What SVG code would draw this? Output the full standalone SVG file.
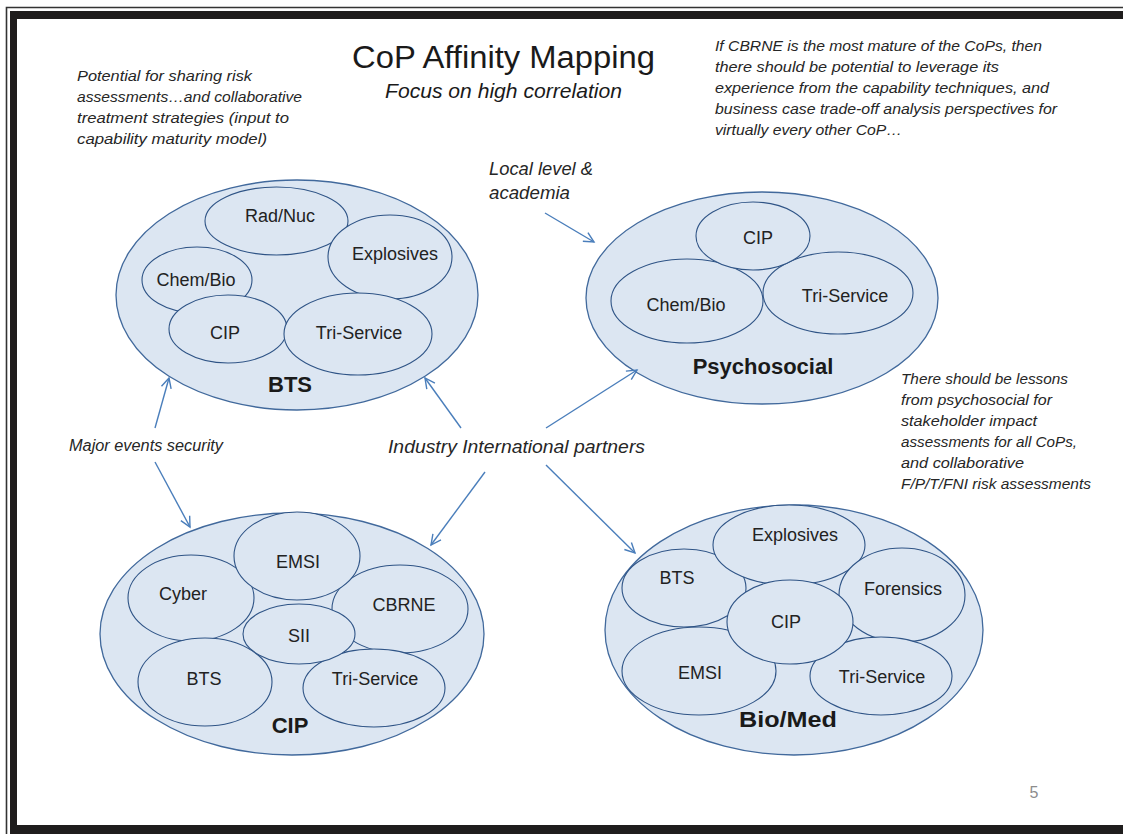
<svg xmlns="http://www.w3.org/2000/svg" width="1123" height="834" viewBox="0 0 1123 834">
<style>
.outer{fill:#dce6f2;stroke:#41699c;stroke-width:1.3}
.inner{fill:#dce6f2;stroke:#2f5486;stroke-width:1.1}
.lbl{font-family:"Liberation Sans",Arial,sans-serif;font-size:18px;fill:#222;text-anchor:middle}
.big{font-family:"Liberation Sans",Arial,sans-serif;font-size:22px;font-weight:bold;fill:#1a1a1a;text-anchor:middle}
.note{font-family:"Liberation Sans",Arial,sans-serif;font-style:italic;font-size:15.5px;fill:#262626}
.conn{stroke:#4a7ebb;stroke-width:1.4;fill:none;marker-end:url(#ah)}
.frame{fill:#1f1d1d}
</style>
<defs>
<marker id="ah" markerUnits="userSpaceOnUse" markerWidth="14" markerHeight="14" refX="11" refY="6" orient="auto">
<path d="M1,1 L11,6 L1,11" fill="none" stroke="#4a7ebb" stroke-width="1.4"/>
</marker>
</defs>
<rect x="0" y="0" width="1123" height="834" fill="#ffffff"/>
<g id="frame">
<path d="M6.5,834 V7.5 H1123" fill="none" stroke="#333" stroke-width="1.6"/>
<rect class="frame" x="10" y="11" width="1113" height="8"/>
<rect class="frame" x="10" y="11" width="7" height="823"/>
<rect class="frame" x="10" y="825" width="1113" height="9"/>
</g>
<g id="title">
<text x="352" y="68" font-family="'Liberation Sans',Arial,sans-serif" font-size="31" fill="#1a1a1a" textLength="303" lengthAdjust="spacingAndGlyphs">CoP Affinity Mapping</text>
<text x="385" y="98" font-family="'Liberation Sans',Arial,sans-serif" font-style="italic" font-size="21" fill="#1a1a1a" textLength="237" lengthAdjust="spacingAndGlyphs">Focus on high correlation</text>
</g>
<g id="note-left">
<text class="note" x="77" y="81" textLength="175" lengthAdjust="spacingAndGlyphs">Potential for sharing risk</text>
<text class="note" x="77" y="102" textLength="225" lengthAdjust="spacingAndGlyphs">assessments…and collaborative</text>
<text class="note" x="77" y="123" textLength="212" lengthAdjust="spacingAndGlyphs">treatment strategies (input to</text>
<text class="note" x="77" y="144" textLength="190" lengthAdjust="spacingAndGlyphs">capability maturity model)</text>
</g>
<g id="note-right-top">
<text class="note" x="715" y="51" textLength="327" lengthAdjust="spacingAndGlyphs">If CBRNE is the most mature of the CoPs, then</text>
<text class="note" x="715" y="72" textLength="284" lengthAdjust="spacingAndGlyphs">there should be potential to leverage its</text>
<text class="note" x="715" y="93" textLength="334" lengthAdjust="spacingAndGlyphs">experience from the capability techniques, and</text>
<text class="note" x="715" y="114" textLength="342" lengthAdjust="spacingAndGlyphs">business case trade-off analysis perspectives for</text>
<text class="note" x="715" y="135" textLength="187" lengthAdjust="spacingAndGlyphs">virtually every other CoP…</text>
</g>
<g id="note-right">
<text class="note" x="901" y="384" textLength="167" lengthAdjust="spacingAndGlyphs">There should be lessons</text>
<text class="note" x="901" y="405" textLength="151" lengthAdjust="spacingAndGlyphs">from psychosocial for</text>
<text class="note" x="901" y="426" textLength="136" lengthAdjust="spacingAndGlyphs">stakeholder impact</text>
<text class="note" x="901" y="447" textLength="176" lengthAdjust="spacingAndGlyphs">assessments for all CoPs,</text>
<text class="note" x="901" y="468" textLength="123" lengthAdjust="spacingAndGlyphs">and collaborative</text>
<text class="note" x="901" y="489" textLength="190" lengthAdjust="spacingAndGlyphs">F/P/T/FNI risk assessments</text>
</g>
<g id="local-level">
<text class="note" style="font-size:18px" x="489" y="175" textLength="104" lengthAdjust="spacingAndGlyphs">Local level &amp;</text>
<text class="note" style="font-size:18px" x="489" y="199" textLength="81" lengthAdjust="spacingAndGlyphs">academia</text>
</g>
<g id="major-events">
<text class="note" style="font-size:16px" x="69" y="451" textLength="154" lengthAdjust="spacingAndGlyphs">Major events security</text>
</g>
<g id="industry">
<text class="note" style="font-size:19px" x="388" y="453" textLength="257" lengthAdjust="spacingAndGlyphs">Industry International partners</text>
</g>

<g id="bts">
<ellipse class="outer" cx="297" cy="295" rx="181" ry="115"/>
<g id="bts-radnuc"><ellipse class="inner" cx="276.5" cy="221" rx="71.5" ry="34"/><text class="lbl" x="280" y="222">Rad/Nuc</text></g>
<g id="bts-explosives"><ellipse class="inner" cx="390" cy="257" rx="62" ry="42"/><text class="lbl" x="395" y="260">Explosives</text></g>
<g id="bts-chembio"><ellipse class="inner" cx="197" cy="280" rx="55" ry="33"/><text class="lbl" x="196" y="286">Chem/Bio</text></g>
<g id="bts-cip"><ellipse class="inner" cx="228" cy="329" rx="59" ry="34"/><text class="lbl" x="225" y="339">CIP</text></g>
<g id="bts-triservice"><ellipse class="inner" cx="358" cy="334" rx="74" ry="41"/><text class="lbl" x="359" y="339">Tri-Service</text></g>
<text class="big" x="290" y="392">BTS</text>
</g>

<g id="psychosocial">
<ellipse class="outer" cx="762" cy="298" rx="176" ry="106"/>
<g id="psy-chembio"><ellipse class="inner" cx="687" cy="301" rx="76" ry="42"/><text class="lbl" x="686" y="311">Chem/Bio</text></g>
<g id="psy-triservice"><ellipse class="inner" cx="838" cy="293" rx="75" ry="41"/><text class="lbl" x="845" y="302">Tri-Service</text></g>
<g id="psy-cip"><ellipse class="inner" cx="753" cy="236" rx="57" ry="34"/><text class="lbl" x="758" y="244">CIP</text></g>
<text class="big" x="763" y="374">Psychosocial</text>
</g>

<g id="cip">
<ellipse class="outer" cx="292" cy="634" rx="192" ry="121"/>
<g id="cip-cyber"><ellipse class="inner" cx="191" cy="598" rx="63" ry="43"/><text class="lbl" x="183" y="600">Cyber</text></g>
<g id="cip-cbrne"><ellipse class="inner" cx="400" cy="609" rx="68" ry="44"/><text class="lbl" x="404" y="611">CBRNE</text></g>
<g id="cip-bts"><ellipse class="inner" cx="205" cy="682" rx="67" ry="44"/><text class="lbl" x="204" y="685">BTS</text></g>
<g id="cip-triservice"><ellipse class="inner" cx="374" cy="688" rx="71" ry="39"/><text class="lbl" x="375" y="685">Tri-Service</text></g>
<g id="cip-emsi"><ellipse class="inner" cx="297" cy="556" rx="63" ry="44"/><text class="lbl" x="298" y="568">EMSI</text></g>
<g id="cip-sii"><ellipse class="inner" cx="299" cy="634" rx="56" ry="30"/><text class="lbl" x="299" y="642">SII</text></g>
<text class="big" x="290" y="733">CIP</text>
</g>

<g id="biomed">
<ellipse class="outer" cx="794" cy="630" rx="189" ry="125"/>
<g id="bio-bts"><ellipse class="inner" cx="684" cy="588" rx="62" ry="39"/><text class="lbl" x="677" y="584">BTS</text></g>
<g id="bio-explosives"><ellipse class="inner" cx="789" cy="545" rx="76" ry="40"/><text class="lbl" x="795" y="541">Explosives</text></g>
<g id="bio-forensics"><ellipse class="inner" cx="902" cy="595" rx="63" ry="47"/><text class="lbl" x="903" y="595">Forensics</text></g>
<g id="bio-emsi"><ellipse class="inner" cx="699" cy="671" rx="77" ry="44"/><text class="lbl" x="700" y="679">EMSI</text></g>
<g id="bio-triservice"><ellipse class="inner" cx="881" cy="676" rx="71" ry="39"/><text class="lbl" x="882" y="683">Tri-Service</text></g>
<g id="bio-cip"><ellipse class="inner" cx="790" cy="622" rx="63" ry="42"/><text class="lbl" x="786" y="628">CIP</text></g>
<text class="big" x="788" y="727" textLength="98" lengthAdjust="spacingAndGlyphs">Bio/Med</text>
</g>

<g id="connectors">
<line class="conn" x1="155" y1="428" x2="169" y2="378"/>
<line class="conn" x1="155" y1="462" x2="190" y2="527"/>
<line class="conn" x1="461" y1="428" x2="425" y2="378"/>
<line class="conn" x1="546" y1="428" x2="637" y2="370"/>
<line class="conn" x1="485" y1="472" x2="431" y2="545"/>
<line class="conn" x1="546" y1="465" x2="635" y2="553"/>
<line class="conn" x1="545" y1="213" x2="594" y2="242"/>
</g>

<g id="page-number">
<text x="1034" y="798" font-family="'Liberation Sans',Arial,sans-serif" font-size="16" fill="#8c8c8c" text-anchor="middle">5</text>
</g>
</svg>
